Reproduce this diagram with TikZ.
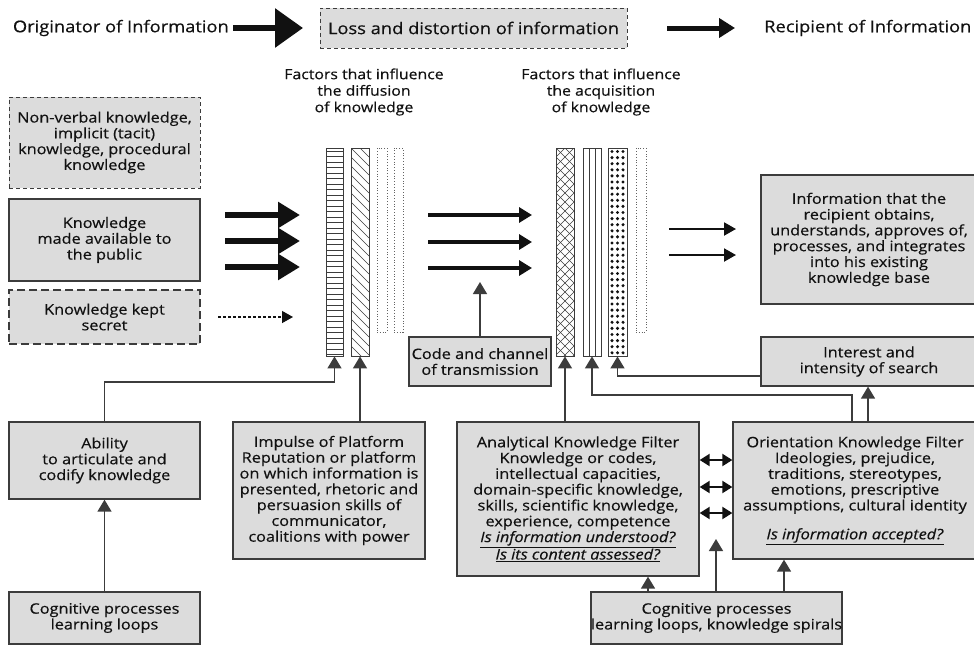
\documentclass[tikz,border=0pt]{standalone}
\usepackage{fontspec}
\setmainfont[FakeStretch=1.13,FakeBold=0.4]{Open Sans}
\usetikzlibrary{arrows.meta}
\definecolor{boxfill}{HTML}{DCDCDC}
\definecolor{boxline}{HTML}{3C3C3C}
\definecolor{ink}{HTML}{111111}
\newcommand\boxfs{\fontsize{14.4}{15.8}\selectfont}
\newcommand\topfs{\fontsize{16.2}{18}\selectfont}
\begin{document}
\begin{tikzpicture}[x=1pt,y=-1pt,
  box/.style={draw=boxline, fill=boxfill, line width=1.3pt, align=center, inner sep=0pt, font=\boxfs, text=ink},
  thinbox/.style={box, line width=1pt, dash pattern=on 4pt off 3pt},
  thickbox/.style={box, line width=2.6pt},
  thickdash/.style={box, line width=2.6pt, dash pattern=on 8pt off 4pt},
  bar/.style={draw=boxline, line width=0.9pt, inner sep=0pt, minimum height=208pt},
  obar/.style={draw=boxline!80, line width=0.8pt, dotted, inner sep=0pt, minimum height=184pt},
  lbl/.style={align=center, inner sep=0pt, font=\boxfs, text=ink},
  toplbl/.style={inner sep=0pt, font=\topfs, text=ink},
  conn/.style={draw=boxline, line width=1.5pt, -{Triangle[length=12pt,width=14pt]}},
  dbl/.style={draw=ink, line width=2pt, {Triangle[length=10pt,width=12pt]}-{Triangle[length=10pt,width=12pt]}},
  bigarrow/.style={draw=ink, line width=6.5pt, -{Triangle[length=22pt,width=25pt]}},
  midarrow/.style={draw=ink, line width=3.2pt, -{Triangle[length=13pt,width=15pt]}},
  thinarrow/.style={draw=ink, line width=2pt, -{Triangle[length=12pt,width=13pt]}},
  dasharrow/.style={draw=ink, line width=1.3pt, dash pattern=on 3pt off 2pt, -{Triangle[length=11pt,width=12pt]}},
  topbig/.style={draw=ink, line width=6pt, -{Triangle[length=28pt,width=38pt]}},
  topsmall/.style={draw=ink, line width=5pt, -{Triangle[length=16pt,width=19pt]}}]
\fill[white] (0,0) rectangle (974,645);
\useasboundingbox (0,0) rectangle (974,645);

% ---- top row
\node[toplbl, anchor=east] (orig) at (229,28) {Originator of Information};
\node[box, font=\topfs, line width=1pt, dash pattern=on 4pt off 3pt, minimum width=307pt, minimum height=40pt] (loss) at (473.5,28) {Loss and distortion of information};
\node[toplbl, anchor=west] (recip) at (764,28) {Recipient of Information};
\coordinate (ta1) at (233,28); \coordinate (ta2) at (303,28);
\coordinate (tb1) at (667,28); \coordinate (tb2) at (735,28);
\draw[topbig] (ta1) -- (ta2);
\draw[topsmall] (tb1) -- (tb2);

% ---- labels
\node[lbl, font=\fontsize{14}{16.5}\selectfont] (fdiff) at (364,92) {Factors that influence\\the diffusion\\of knowledge};
\node[lbl, font=\fontsize{14}{16.5}\selectfont] (facq) at (601,92) {Factors that influence\\the acquisition\\of knowledge};

% ---- left boxes
\node[thinbox, minimum width=191pt, minimum height=91pt] (nonverbal) at (104.5,142.5) {Non-verbal knowledge,\\implicit (tacit)\\knowledge, procedural\\knowledge};
\node[thickbox, minimum width=191pt, minimum height=82pt] (public) at (104.5,240) {Knowledge\\made available to\\the public};
\node[thickdash, minimum width=191pt, minimum height=54pt] (secret) at (104.5,317) {Knowledge kept\\secret};

% ---- bar patterns
\begin{scope}
\clip (326,148) rectangle (343,356);
\foreach \yy in {151,156.5,...,356} \draw[boxline, line width=0.6pt] (326,\yy) -- (343,\yy);
\end{scope}
\begin{scope}
\clip (351,148) rectangle (369,356);
\foreach \cc in {130,139,...,360} \draw[boxline, line width=0.6pt] (351,\cc) -- (369,\cc+18);
\end{scope}
\begin{scope}
\clip (556,148) rectangle (574,356);
\foreach \cc in {130,139,...,365} {
  \draw[boxline, line width=0.6pt] (556,\cc) -- (574,\cc+18);
  \draw[boxline, line width=0.6pt] (556,\cc+18) -- (574,\cc);
}
\end{scope}
\draw[boxline, line width=0.8pt] (589,148) -- (589,356) (595,148) -- (595,356);
\foreach \yy in {151.5,157.6,...,354} {
  \fill[ink] (612,\yy) circle (1.7pt) (617.5,\yy) circle (1.7pt) (623,\yy) circle (1.7pt);
}

% ---- bars
\node[bar, minimum width=17pt] (hbar) at (334.5,252) {};
\node[bar, minimum width=18pt] (dbar) at (360,252) {};
\node[obar, minimum width=10pt] (ob1) at (382,240) {};
\node[obar, minimum width=9pt] (ob2) at (398.5,240) {};
\node[bar, minimum width=18pt] (xbar) at (565,252) {};
\node[bar, minimum width=18pt] (vbar) at (592,252) {};
\node[bar, minimum width=19pt] (pbar) at (617.5,252) {};
\node[obar, minimum width=10pt] (ob3) at (641,240) {};

% ---- flow arrows
\foreach \yy/\nm in {215/a,241/b,267/c} {
  \coordinate (big\nm1) at (225,\yy); \coordinate (big\nm2) at (300,\yy);
  \draw[bigarrow] (big\nm1) -- (big\nm2);
}
\coordinate (ds1) at (218,317); \coordinate (ds2) at (293,317);
\draw[dasharrow] (ds1) -- (ds2);
\foreach \yy/\nm in {215/a,242/b,268/c} {
  \coordinate (mid\nm1) at (428,\yy); \coordinate (mid\nm2) at (532,\yy);
  \draw[midarrow] (mid\nm1) -- (mid\nm2);
}
\foreach \yy/\nm in {229/a,255/b} {
  \coordinate (rt\nm1) at (669,\yy); \coordinate (rt\nm2) at (736,\yy);
  \draw[thinarrow] (rt\nm1) -- (rt\nm2);
}

% ---- right boxes
\node[box, minimum width=216pt, minimum height=129pt] (info) at (869,239.5) {Information that the\\recipient obtains,\\understands, approves of,\\processes, and integrates\\into his existing\\knowledge base};
\node[box, minimum width=216pt, minimum height=49pt] (interest) at (869,361.5) {Interest and\\intensity of search};
\node[box, minimum width=142pt, minimum height=49pt] (code) at (480,361.5) {Code and channel\\of transmission};

% ---- bottom boxes
\node[box, minimum width=191pt, minimum height=77pt] (abil) at (104.5,460.5) {Ability\\to articulate and\\codify knowledge};
\node[box, minimum width=192pt, minimum height=137pt] (imp) at (329,490.5) {Impulse of Platform\\Reputation or platform\\on which information is\\presented, rhetoric and\\persuasion skills of\\communicator,\\coalitions with power};
\node[box, minimum width=191pt, minimum height=52pt] (cogl) at (104.5,618) {Cognitive processes\\learning loops};
\node[box, minimum width=242pt, minimum height=154pt] (anal) at (578,499) {Analytical Knowledge Filter\\Knowledge or codes,\\intellectual capacities,\\domain-specific knowledge,\\skills, scientific knowledge,\\experience, competence\\\underline{\textit{Is information understood?}}\\\underline{\textit{Is its content assessed?}}};
\node[box, minimum width=244pt, minimum height=137pt] (orient) at (855,490.5) {Orientation Knowledge Filter\\Ideologies, prejudice,\\traditions, stereotypes,\\emotions, prescriptive\\assumptions, cultural identity\\[13pt]\underline{\textit{Is information accepted?}}};
\node[box, minimum width=251pt, minimum height=52pt] (cogr) at (716.5,618) {Cognitive processes\\learning loops, knowledge spirals};

% ---- connectors
\coordinate (ya) at (0,382);
\draw[conn] (abil.north) |- (ya -| hbar.south) -- (hbar.south);
\draw[conn] (imp.north -| dbar.south) -- (dbar.south);
\coordinate (codeend) at (480,282);
\draw[conn] (code.north) -- (codeend);
\draw[conn] (anal.north -| xbar.south) -- (xbar.south);
\coordinate (xo1) at (852,395);
\draw[conn] (orient.north -| xo1) -- (xo1) -| (vbar.south);
\coordinate (xo2) at (868,0);
\draw[conn] (orient.north -| xo2) -- (interest.south -| xo2);
\coordinate (yi) at (0,376);
\draw[conn] (interest.west |- yi) -| (pbar.south);
\draw[conn] (cogl.north) -- (abil.south);
\coordinate (c1) at (648,0);
\draw[conn] (cogr.north -| c1) -- (anal.south -| c1);
\coordinate (c2) at (716,539);
\draw[conn] (cogr.north -| c2) -- (c2);
\coordinate (c3) at (784,0);
\draw[conn] (cogr.north -| c3) -- (orient.south -| c3);
\foreach \yy/\nm in {460/a,487/b,513/c} {
  \coordinate (dy\nm) at (0,\yy);
  \draw[dbl] (anal.east |- dy\nm) -- (orient.west |- dy\nm);
}
\end{tikzpicture}
\end{document}
